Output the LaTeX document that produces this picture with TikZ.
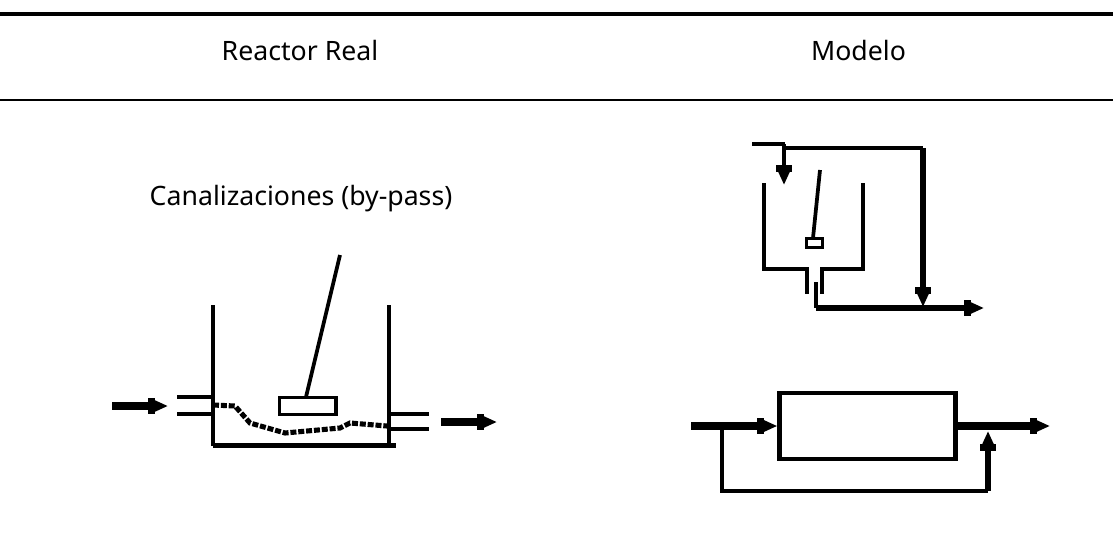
\documentclass[tikz,border=0pt]{standalone}
\usepackage{fontspec}
\setmainfont{Noto Sans}
\usetikzlibrary{arrows.meta}
\tikzset{every picture/.append style={x=0.75pt,y=-0.75pt}}
\tikzset{heading/.style={inner sep=0pt,font=\fontsize{20pt}{24pt}\selectfont}}
\tikzset{wall/.style={line width=2.9pt,line join=miter}}
\tikzset{thinwall/.style={line width=3pt,line join=miter}}
\tikzset{rod/.style={line width=2.8pt}}
\tikzset{trickle/.style={line width=3.8pt,dash pattern=on 4.5pt off 1.4pt}}
\tikzset{flow/.style={line width=#1,-{Rectangle[length=5pt,width=12pt]Triangle[length=10pt,width=8pt]}}}
\tikzset{flow/.default=5.4pt}

\begin{document}
\begin{tikzpicture}
\useasboundingbox (0,0) rectangle (1113,550);
\coordinate (rule1a) at (0,14);
\coordinate (rule1b) at (1113,14);
\coordinate (rule2a) at (0,100);
\coordinate (rule2b) at (1113,100);
\draw[line width=3.6pt] (rule1a) -- (rule1b);
\draw[line width=2.2pt] (rule2a) -- (rule2b);
\node (real) at (300,50)[heading]{Reactor Real};
\node (modelo) at (858.5,50)[heading]{Modelo};
\node (canal) at (301,199)[heading]{Canalizaciones (by-pass)};

% real reactor
\coordinate (lefttop) at (212.7,305);
\coordinate (leftbot) at (212.7,445.5);
\coordinate (righttop) at (389,305);
\coordinate (rightbot) at (389,445.5);
\coordinate (floorend) at (396,445.5);
\coordinate (rodtop) at (340,255);
\coordinate (rodbot) at (306,397);
\coordinate (in1) at (177,397);
\coordinate (in1b) at (212.7,397);
\coordinate (in2) at (177,414);
\coordinate (in2b) at (212.7,414);
\coordinate (out1) at (389,414);
\coordinate (out1b) at (429,414);
\coordinate (out2) at (389,429);
\coordinate (out2b) at (429,429);
\coordinate (arrin) at (112,406);
\coordinate (arrinb) at (168,406);
\coordinate (arrout) at (441,422);
\coordinate (arroutb) at (497,422);
\node (paddle) at (307.7,406)[draw,line width=2.9pt,minimum width=42.4pt,minimum height=12.8pt,inner sep=0pt]{};
\draw[wall] (lefttop) -- (leftbot);
\draw[wall] (righttop) -- (rightbot);
\draw[line width=3.4pt] (leftbot) -- (floorend);
\draw[rod] (rodtop) -- (rodbot);
\draw[thinwall] (in1) -- (in1b);
\draw[thinwall] (in2) -- (in2b);
\draw[thinwall] (out1) -- (out1b);
\draw[thinwall] (out2) -- (out2b);
\draw[flow] (arrin) -- (arrinb);
\draw[flow] (arrout) -- (arroutb);
\coordinate (d1) at (213,405);
\coordinate (d2) at (235,406);
\coordinate (d3) at (250,423);
\coordinate (d4) at (285,433);
\coordinate (d5) at (340,428);
\coordinate (d6) at (350,423);
\coordinate (d7) at (387,426);
\draw[trickle] (d1) -- (d2) -- (d3) -- (d4) -- (d5) -- (d6) -- (d7);

% model with by-pass over the tank
\coordinate (feed) at (752,144);
\coordinate (feedb) at (785,144);
\coordinate (feedc) at (784,144);
\coordinate (feedtip) at (784,185);
\coordinate (top) at (784,148);
\coordinate (topr) at (923,148);
\coordinate (toptip) at (923,307);
\coordinate (drain) at (816,282);
\coordinate (drainb) at (816,308);
\coordinate (exit) at (984,308);
\coordinate (tankl) at (764,183);
\coordinate (tankla) at (764,269);
\coordinate (tanklb) at (807,269);
\coordinate (tanklc) at (807,294);
\coordinate (tankr) at (863,183);
\coordinate (tankra) at (863,269);
\coordinate (tankrb) at (822,269);
\coordinate (tankrc) at (822,294);
\coordinate (stemtop) at (820,170);
\coordinate (stembot) at (813,238);
\node (blade) at (814.5,243)[draw,line width=2.6pt,minimum width=12pt,minimum height=6.8pt,inner sep=0pt]{};
\draw[wall] (tankl) -- (tankla) -- (tanklb) -- (tanklc);
\draw[wall] (tankr) -- (tankra) -- (tankrb) -- (tankrc);
\draw[rod] (stemtop) -- (stembot);
\draw[line width=3pt] (feed) -- (feedb);
\draw[flow=3.4pt] (feedc) -- (feedtip);
\draw[line width=3.6pt] (top) -- (topr);
\draw[flow=4.8pt] (topr) -- (toptip);
\draw[line width=2.6pt] (drain) -- (drainb);
\draw[flow=4.2pt] (drainb) -- (exit);

% model with by-pass round the tube
\node (tube) at (867.5,426)[draw,line width=3.2pt,minimum width=132pt,minimum height=49.5pt,inner sep=0pt]{};
\coordinate (start) at (691,426);
\coordinate (outend) at (1050,426);
\coordinate (byp) at (722,428);
\coordinate (bypb) at (722,491);
\coordinate (bypc) at (988,491);
\coordinate (bypd) at (988,431);
\draw[flow=6pt] (start) -- (tube.west);
\draw[flow=6pt] (tube.east) -- (outend);
\draw[line width=3.2pt] (byp) -- (bypb) -- (bypc);
\draw[flow=5pt] (bypc) -- (bypd);
\end{tikzpicture}
\end{document}
